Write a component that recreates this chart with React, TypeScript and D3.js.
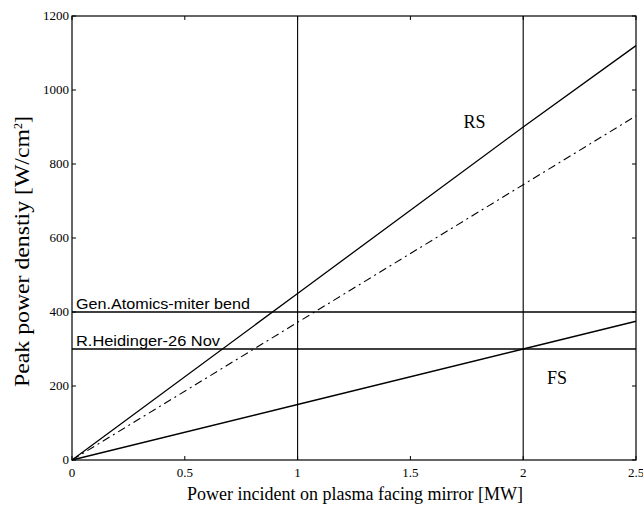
import React from "react";
import * as d3 from "d3";

const xTicks = [0, 0.5, 1, 1.5, 2, 2.5];
const xTickLabels = ["0", "0.5", "1", "1.5", "2", "2.5"];
const yTicks = [0, 200, 400, 600, 800, 1000, 1200];
const yTickLabels = ["0", "200", "400", "600", "800", "1000", "1200"];

const powerMW = [0, 1, 2, 2.5];
const rsValues = [0, 450, 900, 1120];
const rsDashValues = [0, 372, 744, 930];
const fsValues = [0, 150, 300, 375];

const limitValues = [400, 300];
const limitLabels = ["Gen.Atomics-miter bend", "R.Heidinger-26 Nov"];
const limitLabelWidths = [174, 144];
const verticalMarks = [1, 2];

const W = 643, H = 506;
const M = { left: 72, right: 636, top: 16, bottom: 460 };

export default function App() {
  const x = d3.scaleLinear().domain([0, 2.5]).range([M.left, M.right]);
  const y = d3.scaleLinear().domain([0, 1200]).range([M.bottom, M.top]);
  const line = d3
    .line<[number, number]>()
    .x((d) => x(d[0]))
    .y((d) => y(d[1]));
  const pts = (vals: number[]) => powerMW.map((p, i) => [p, vals[i]] as [number, number]);
  const serif = "'Liberation Serif', 'DejaVu Serif', serif";
  const sans = "'Liberation Sans', Arial, sans-serif";
  const tk = 4;
  return (
    <svg width={W} height={H} style={{ position: "absolute", left: 0, top: 0 }}>
      <rect x={0} y={0} width={W} height={H} fill="#fff" />
      <rect
        x={M.left}
        y={M.top}
        width={M.right - M.left}
        height={M.bottom - M.top}
        fill="none"
        stroke="#000"
        strokeWidth={1.2}
      />
      {xTicks.map((t, i) => (
        <g key={"xt" + i}>
          <line x1={x(t)} x2={x(t)} y1={M.bottom} y2={M.bottom - tk} stroke="#000" />
          <line x1={x(t)} x2={x(t)} y1={M.top} y2={M.top + tk} stroke="#000" />
          <text x={x(t)} y={M.bottom + 17} textAnchor="middle" fontFamily={serif} fontSize={13}>
            {xTickLabels[i]}
          </text>
        </g>
      ))}
      {yTicks.map((t, i) => (
        <g key={"yt" + i}>
          <line x1={M.left} x2={M.left + tk} y1={y(t)} y2={y(t)} stroke="#000" />
          <line x1={M.right} x2={M.right - tk} y1={y(t)} y2={y(t)} stroke="#000" />
          <text x={M.left - 3} y={y(t) + 4} textAnchor="end" fontFamily={serif} fontSize={13}>
            {yTickLabels[i]}
          </text>
        </g>
      ))}
      {verticalMarks.map((v, i) => (
        <line
          key={"vm" + i}
          x1={x(v)}
          x2={x(v)}
          y1={M.top}
          y2={M.bottom}
          stroke="#000"
          strokeWidth={1.1}
        />
      ))}
      {limitValues.map((v, i) => (
        <g key={"lim" + i}>
          <line x1={M.left} x2={M.right} y1={y(v)} y2={y(v)} stroke="#000" strokeWidth={1.4} />
          <text
            x={M.left + 4}
            y={y(v) - 3}
            fontFamily={sans}
            fontSize={14}
            textLength={limitLabelWidths[i]}
            lengthAdjust="spacingAndGlyphs"
          >
            {limitLabels[i]}
          </text>
        </g>
      ))}
      <path d={line(pts(rsValues)) || ""} fill="none" stroke="#000" strokeWidth={1.3} />
      <path
        d={line(pts(rsDashValues)) || ""}
        fill="none"
        stroke="#000"
        strokeWidth={1.1}
        strokeDasharray="8 4 2 4"
      />
      <path d={line(pts(fsValues)) || ""} fill="none" stroke="#000" strokeWidth={1.3} />
      <text x={x(1.735)} y={y(897)} fontFamily={serif} fontSize={18}>
        RS
      </text>
      <text x={x(2.105)} y={y(205)} fontFamily={serif} fontSize={18}>
        FS
      </text>
      <text
        x={187}
        y={500}
        fontFamily={serif}
        fontSize={18}
        textLength={336}
        lengthAdjust="spacingAndGlyphs"
      >
        Power incident on plasma facing mirror [MW]
      </text>
      <text
        transform={`translate(29, 387) rotate(-90)`}
        fontFamily={serif}
        fontSize={20}
      >
        <tspan textLength={258} lengthAdjust="spacingAndGlyphs">Peak power denstiy [W/cm</tspan>
        <tspan dy={-7} fontSize={12}>
          2
        </tspan>
        <tspan dy={7}>]</tspan>
      </text>
    </svg>
  );
}
